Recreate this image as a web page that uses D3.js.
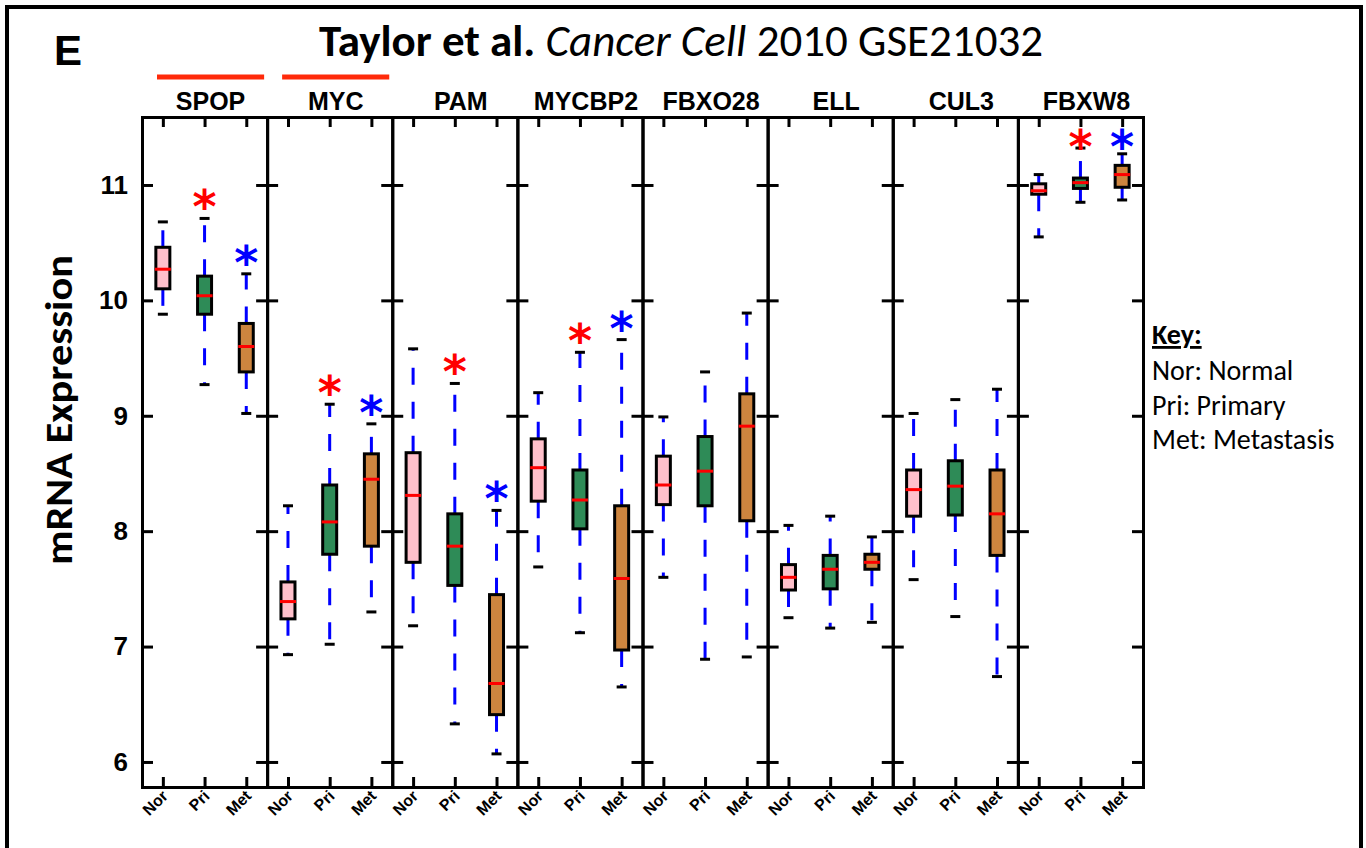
<!DOCTYPE html>
<html>
<head>
<meta charset="utf-8">
<script src="https://cdn.jsdelivr.net/npm/d3@7"></script>
<style>
  body { margin: 0; background: white; }
  svg { display: block; }
  .sans { font-family: "Liberation Sans", Arial, sans-serif; }
  .cal { font-family: Carlito, Calibri, Lato, sans-serif; }
</style>
</head>
<body>
<div id="chart"></div>
<script>

// data
const genes = ["SPOP", "MYC", "PAM", "MYCBP2", "FBXO28", "ELL", "CUL3", "FBXW8"];
const groups = ["Nor", "Pri", "Met"];
const highlighted = ["SPOP", "MYC"];

// whisker ends and quartiles, one row per gene, columns Nor / Pri / Met
const lowCap = [[9.88, 9.27, 9.02], [6.93, 7.02, 7.30], [7.18, 6.33, 6.07], [7.69, 7.12, 6.65],
                [7.60, 6.89, 6.91], [7.25, 7.16, 7.21], [7.58, 7.26, 6.74], [10.55, 10.85, 10.87]];
const q1 = [[10.10, 9.88, 9.38], [7.24, 7.80, 7.87], [7.73, 7.53, 6.41], [8.26, 8.02, 6.97],
            [8.23, 8.22, 8.09], [7.49, 7.50, 7.67], [8.13, 8.14, 7.79], [10.92, 10.97, 10.98]];
const median = [[10.27, 10.04, 9.60], [7.39, 8.08, 8.45], [8.31, 7.87, 6.68], [8.55, 8.27, 7.59],
                [8.40, 8.52, 8.91], [7.60, 7.67, 7.73], [8.36, 8.39, 8.15], [10.95, 11.02, 11.09]];
const q3 = [[10.46, 10.21, 9.80], [7.56, 8.40, 8.67], [8.68, 8.15, 7.45], [8.80, 8.53, 8.22],
            [8.65, 8.82, 9.19], [7.71, 7.79, 7.80], [8.53, 8.61, 8.53], [11.01, 11.06, 11.17]];
const highCap = [[10.68, 10.71, 10.23], [8.22, 9.10, 8.93], [9.58, 9.28, 8.18], [9.20, 9.55, 9.66],
                 [8.99, 9.38, 9.89], [8.05, 8.13, 7.95], [9.02, 9.14, 9.23], [11.09, 11.32, 11.27]];

// significance stars (1 = starred)
const sigPri = [1, 1, 1, 1, 0, 0, 0, 1];
const sigMet = [1, 1, 1, 1, 0, 0, 0, 1];

const yTicks = [6, 7, 8, 9, 10, 11];
const keyLines = ["Nor: Normal", "Pri: Primary", "Met: Metastasis"];

const fillColors = {Nor: "#ffc0cb", Pri: "#2e8b57", Met: "#cd853f"};

// layout
const W = 1366, H = 848;
const plot = {left: 142, right: 1143, top: 117, bottom: 787};

const svg = d3.select("#chart").append("svg")
    .attr("width", W)
    .attr("height", H);

svg.append("rect")
    .attr("x", 7).attr("y", 7)
    .attr("width", W - 12).attr("height", H + 20)
    .attr("fill", "white")
    .attr("stroke", "black")
    .attr("stroke-width", 4);

// scales
const x = d3.scaleBand().domain(genes).range([plot.left, plot.right]);
const xi = d3.scalePoint().domain(groups).range([0, x.bandwidth()]).padding(0.5);
const y = d3.scaleLinear().domain([5.783, 11.589]).range([plot.bottom, plot.top]);

// panel label and title
svg.append("text")
    .attr("class", "sans")
    .attr("x", 54).attr("y", 65)
    .attr("font-size", 42).attr("font-weight", "bold")
    .text("E");

const title = svg.append("text")
    .attr("class", "cal")
    .attr("x", 681).attr("y", 56)
    .attr("text-anchor", "middle")
    .attr("font-size", 45);
title.append("tspan").attr("font-weight", "bold").text("Taylor et al. ");
title.append("tspan").attr("font-style", "italic").text("Cancer Cell ");
title.append("tspan").text("2010 GSE21032");

// red bars over the highlighted genes
svg.selectAll(".hl")
    .data(highlighted)
    .enter().append("line")
    .attr("x1", d => x(d) + 15)
    .attr("x2", d => x(d) + x.bandwidth() - 3)
    .attr("y1", 77).attr("y2", 77)
    .attr("stroke", "#ff2a0a")
    .attr("stroke-width", 5);

// gene names
svg.selectAll(".gene")
    .data(genes)
    .enter().append("text")
    .attr("class", "sans")
    .attr("x", d => x(d) + x.bandwidth() / 2 + 6)
    .attr("y", 110)
    .attr("text-anchor", "middle")
    .attr("font-size", 25).attr("font-weight", "bold")
    .text(d => d);

// y label
svg.append("text")
    .attr("class", "cal")
    .attr("transform", "translate(72,410) rotate(-90)")
    .attr("text-anchor", "middle")
    .attr("font-size", 39).attr("font-weight", "bold")
    .attr("textLength", 310)
    .attr("lengthAdjust", "spacingAndGlyphs")
    .text("mRNA Expression");

// y tick labels
const yLab = svg.append("g")
    .attr("class", "sans")
    .attr("transform", `translate(${plot.left},0)`)
    .call(d3.axisLeft(y).tickValues(yTicks).tickSize(0).tickPadding(14).tickFormat(d3.format("d")));
yLab.select(".domain").remove();
yLab.selectAll("text")
    .attr("font-size", 26).attr("font-weight", "bold")
    .attr("fill", "black")
    .style("font-family", "Liberation Sans, Arial, sans-serif");

// panels
genes.forEach((g, gi) => {
    const x0 = x(g), x1 = x(g) + x.bandwidth();
    const panel = svg.append("g").attr("class", "panel");

    const axes = [
        panel.append("g").attr("transform", `translate(${x0},0)`)
            .call(d3.axisRight(y).tickValues(yTicks).tickSize(11).tickSizeOuter(0).tickFormat("")),
        panel.append("g").attr("transform", `translate(${x1},0)`)
            .call(d3.axisLeft(y).tickValues(yTicks).tickSize(11).tickSizeOuter(0).tickFormat("")),
        panel.append("g").attr("transform", `translate(${x0},${plot.top})`)
            .call(d3.axisBottom(xi).tickSize(10).tickSizeOuter(0).tickFormat("")),
        panel.append("g").attr("transform", `translate(${x0},${plot.bottom})`)
            .call(d3.axisTop(xi).tickSize(10).tickSizeOuter(0).tickFormat(""))
    ];
    axes.forEach(a => {
        a.selectAll("path, line").attr("stroke", "black").attr("stroke-width", 3);
        a.select(".domain").attr("stroke-linecap", "square");
    });

    // bottom category labels
    panel.selectAll(".cat")
        .data(groups)
        .enter().append("text")
        .attr("class", "sans")
        .attr("transform", d => `translate(${x0 + xi(d) + 6},${plot.bottom + 10}) rotate(-45)`)
        .attr("text-anchor", "end")
        .attr("font-size", 16).attr("font-weight", "bold")
        .text(d => d);

    const boxW = 14, capW = 10;
    groups.forEach((grp, k) => {
        const cx = x0 + xi(grp);
        const box = panel.append("g");

        // whiskers, dashed from the box outwards
        box.append("line")
            .attr("x1", cx).attr("x2", cx)
            .attr("y1", y(q3[gi][k])).attr("y2", y(highCap[gi][k]))
            .attr("stroke", "#0000ff").attr("stroke-width", 3)
            .attr("stroke-dasharray", "17,17");
        box.append("line")
            .attr("x1", cx).attr("x2", cx)
            .attr("y1", y(q1[gi][k])).attr("y2", y(lowCap[gi][k]))
            .attr("stroke", "#0000ff").attr("stroke-width", 3)
            .attr("stroke-dasharray", "17,17");

        // caps
        [highCap[gi][k], lowCap[gi][k]].forEach(v => {
            box.append("line")
                .attr("x1", cx - capW / 2).attr("x2", cx + capW / 2)
                .attr("y1", y(v)).attr("y2", y(v))
                .attr("stroke", "black").attr("stroke-width", 3);
        });

        // box
        box.append("rect")
            .attr("x", cx - boxW / 2)
            .attr("y", y(q3[gi][k]))
            .attr("width", boxW)
            .attr("height", y(q1[gi][k]) - y(q3[gi][k]))
            .attr("fill", fillColors[grp])
            .attr("stroke", "black").attr("stroke-width", 3);

        // median
        box.append("line")
            .attr("x1", cx - boxW / 2 - 1).attr("x2", cx + boxW / 2 + 1)
            .attr("y1", y(median[gi][k])).attr("y2", y(median[gi][k]))
            .attr("stroke", "#ff0000").attr("stroke-width", 3);

        // stars
        const starred = grp === "Pri" ? sigPri[gi] : grp === "Met" ? sigMet[gi] : 0;
        if (starred) {
            const sy = Math.max(y(highCap[gi][k]) - 21, plot.top + 20);
            box.append("text")
                .attr("x", cx)
                .attr("y", sy + 26)
                .attr("text-anchor", "middle")
                .attr("font-family", "DejaVu Sans, sans-serif")
                .attr("font-size", 46)
                .attr("font-weight", "bold")
                .attr("fill", grp === "Pri" ? "#ff0000" : "#0000ff")
                .text("*");
        }
    });
});

// key
const key = svg.append("g").attr("class", "cal").attr("font-size", 28);
key.append("text")
    .attr("x", 1152).attr("y", 344)
    .attr("font-weight", "bold")
    .attr("text-decoration", "underline")
    .text("Key:");
key.selectAll(".kl")
    .data(keyLines)
    .enter().append("text")
    .attr("x", 1152)
    .attr("y", (d, i) => 380 + i * 34.5)
    .text(d => d);

</script>
</body>
</html>
